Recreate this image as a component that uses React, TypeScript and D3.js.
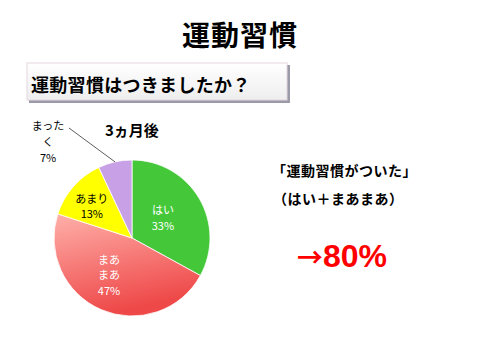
import React, { useEffect, useRef } from 'react';
import * as d3 from 'd3';

const categories = ['はい', 'まあまあ', 'あまり', 'まったく'];
const values = [33, 47, 13, 7];
const sliceLabels = [['はい', '33%'], ['まあ', 'まあ', '47%'], ['あまり', '13%'], ['まった', 'く', '7%']];
const colors = ['#44c83a', 'url(#pinkGrad)', '#ffff00', '#c8a0e6'];
const labelColors = ['#ffffff', '#ffffff', '#000000', '#000000'];

const FONT = '"Noto Sans CJK JP", "Noto Sans", sans-serif';

const App = () => {
  const svgRef = useRef<SVGSVGElement>(null);

  useEffect(() => {
    const svg = d3.select(svgRef.current);
    svg.selectAll('*').remove();

    const defs = svg.append('defs');
    const grad = defs.append('linearGradient')
      .attr('id', 'pinkGrad')
      .attr('x1', 0).attr('y1', 0).attr('x2', 0.3).attr('y2', 1);
    grad.append('stop').attr('offset', '0%').attr('stop-color', '#ffb0aa');
    grad.append('stop').attr('offset', '100%').attr('stop-color', '#ee4848');
    const boxGrad = defs.append('linearGradient')
      .attr('id', 'boxGrad')
      .attr('x1', 0).attr('y1', 0).attr('x2', 0).attr('y2', 1);
    boxGrad.append('stop').attr('offset', '0%').attr('stop-color', '#ffffff');
    boxGrad.append('stop').attr('offset', '100%').attr('stop-color', '#eeeeee');

    // Title
    svg.append('text')
      .attr('x', 240).attr('y', 46)
      .attr('text-anchor', 'middle')
      .style('font-family', FONT).style('font-weight', 'bold')
      .style('font-size', '28px').style('letter-spacing', '1px')
      .attr('fill', '#000')
      .text('運動習慣');

    // Subtitle box
    svg.append('rect')
      .attr('x', 29).attr('y', 65).attr('width', 261).attr('height', 38)
      .attr('fill', '#9a9aa8');
    svg.append('rect')
      .attr('x', 27).attr('y', 63).attr('width', 260).attr('height', 37)
      .attr('fill', 'url(#boxGrad)').attr('stroke', '#e4d8e0');
    svg.append('text')
      .attr('x', 31).attr('y', 92)
      .style('font-family', FONT).style('font-weight', 'bold')
      .style('font-size', '18px').style('letter-spacing', '0.3px')
      .attr('fill', '#000')
      .text('運動習慣はつきましたか？');

    svg.append('text')
      .attr('x', 105).attr('y', 136)
      .style('font-family', FONT).style('font-weight', 'bold')
      .style('font-size', '15px')
      .attr('fill', '#000')
      .text('3ヵ月後');

    // Pie
    const cx = 132, cy = 238, r = 78;
    const pie = d3.pie<number>().sort(null).value(d => d);
    const arcs = pie(values);
    const arc = d3.arc<d3.PieArcDatum<number>>().innerRadius(0).outerRadius(r);
    const g = svg.append('g').attr('transform', `translate(${cx},${cy})`);
    g.selectAll('path')
      .data(arcs)
      .enter().append('path')
      .attr('d', arc)
      .attr('fill', (d, i) => colors[i])
      .attr('stroke', '#ffffff')
      .attr('stroke-width', 0.8);

    // Slice labels (inside), one text per line
    const inner = d3.arc<d3.PieArcDatum<number>>().innerRadius(r * 0.55).outerRadius(r * 0.55);
    const offsets = [[-6, 2], [-6, -2], [-8, -3]];
    const lh = 15.5;
    arcs.slice(0, 3).forEach((d, i) => {
      const [lx, ly] = inner.centroid(d);
      const lines = sliceLabels[i];
      const startY = ly + offsets[i][1] - (lines.length - 1) * lh / 2 + 4;
      lines.forEach((s, j) => {
        g.append('text')
          .attr('text-anchor', 'middle')
          .attr('x', lx + offsets[i][0])
          .attr('y', startY + j * lh)
          .style('font-family', FONT)
          .style('font-size', '11px')
          .attr('fill', labelColors[i])
          .text(s);
      });
    });

    // まったく label outside with leader line
    const a = arcs[3];
    const mid = (a.startAngle + a.endAngle) / 2;
    const ex = Math.sin(mid) * r, ey = -Math.cos(mid) * r;
    g.append('line')
      .attr('x1', ex).attr('y1', ey)
      .attr('x2', 69 - cx).attr('y2', 128 - cy)
      .attr('stroke', '#333').attr('stroke-width', 0.8);
    sliceLabels[3].forEach((s, j) => {
      svg.append('text')
        .attr('text-anchor', 'middle')
        .attr('x', 48).attr('y', 130 + j * 16)
        .style('font-family', FONT)
        .style('font-size', '11px')
        .attr('fill', '#000')
        .text(s);
    });

    // Right side text
    svg.append('text')
      .attr('x', 272).attr('y', 176)
      .style('font-family', FONT).style('font-weight', 'bold')
      .style('font-size', '14px').style('letter-spacing', '0.5px')
      .attr('fill', '#000')
      .text('「運動習慣がついた」');
    svg.append('text')
      .attr('x', 273).attr('y', 204)
      .style('font-family', FONT).style('font-weight', 'bold')
      .style('font-size', '14px').style('letter-spacing', '0.5px')
      .attr('fill', '#000')
      .text('（はい＋まあまあ）');
    const res = svg.append('text')
      .attr('x', 297).attr('y', 267)
      .style('font-weight', 'bold')
      .attr('fill', '#ff0000');
    res.append('tspan')
      .style('font-family', FONT).style('font-size', '26px')
      .text('→');
    res.append('tspan')
      .style('font-family', '"Liberation Sans", Arial, sans-serif')
      .style('font-size', '32px')
      .text('80%');
  }, []);

  return (
    <svg ref={svgRef} width={480} height={360}
      style={{ position: 'absolute', left: 0, top: 0, background: '#fff' }} />
  );
};

export default App;
